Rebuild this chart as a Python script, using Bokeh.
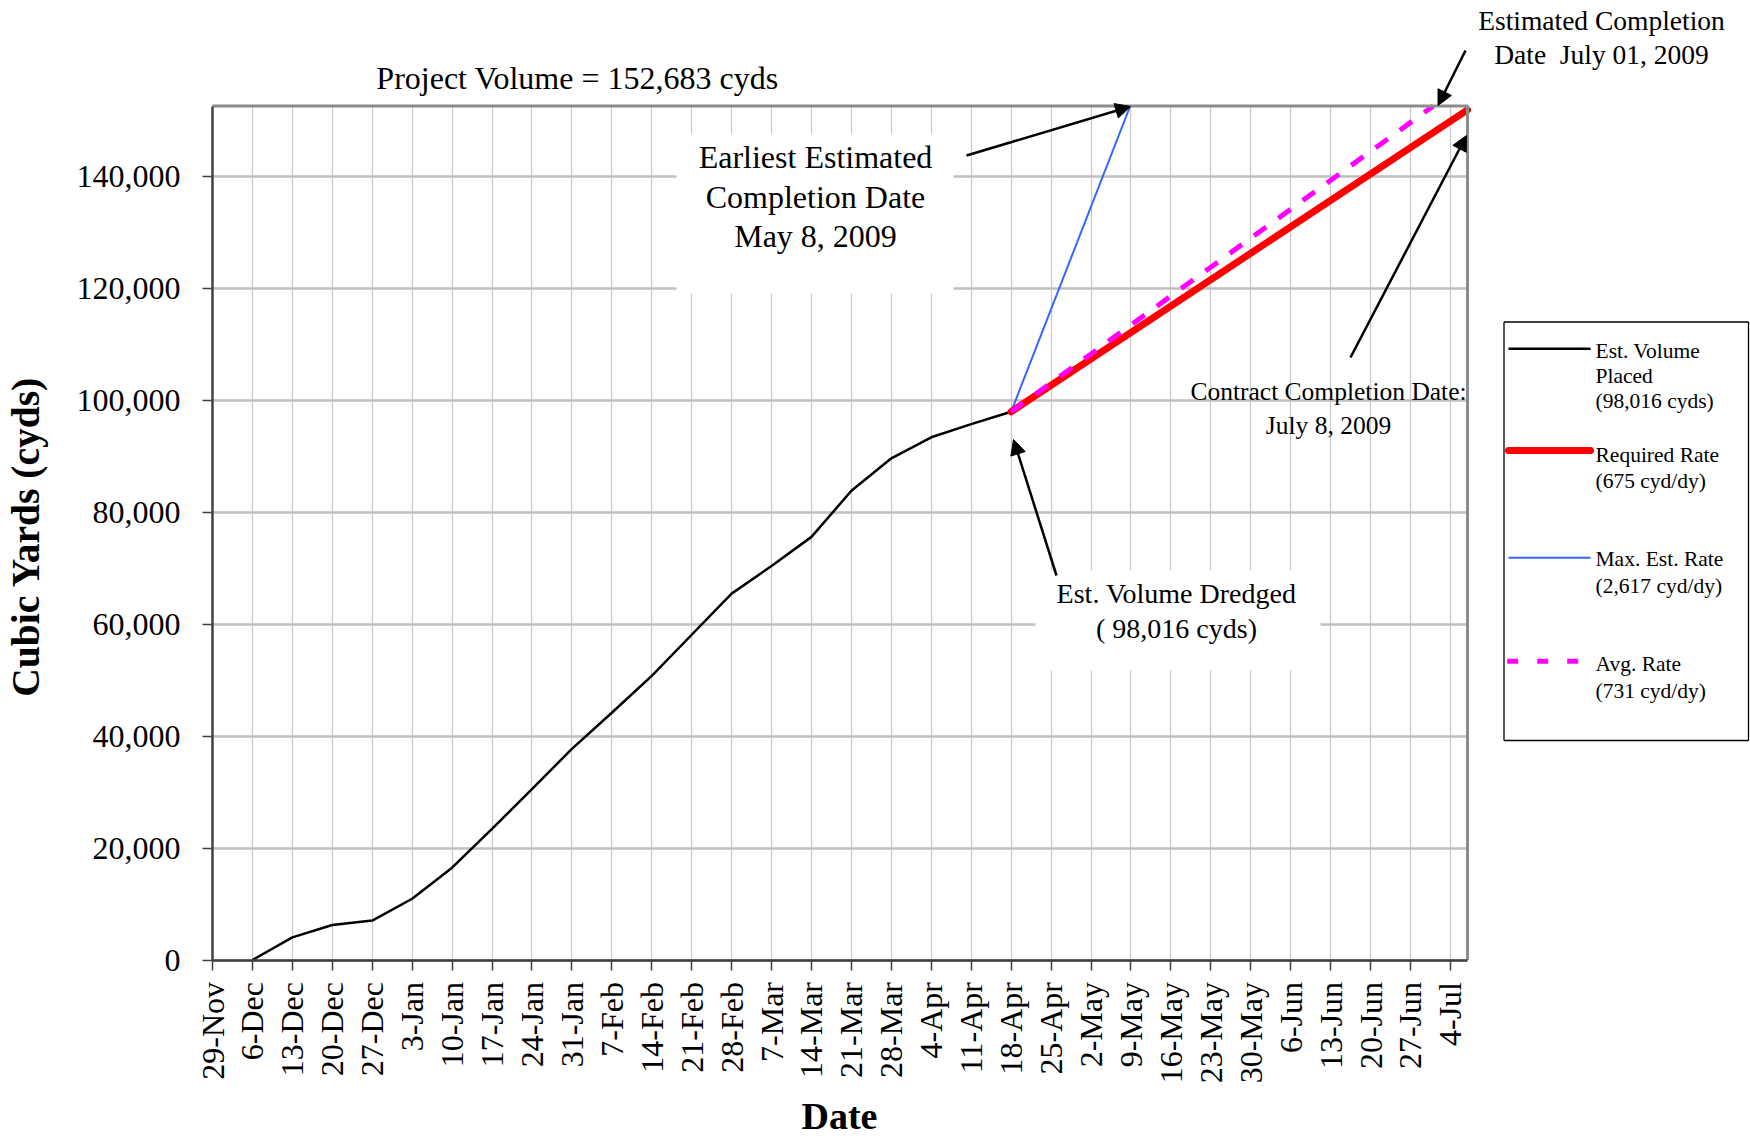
import math
import pandas as pd
from bokeh.plotting import figure
from bokeh.models import (Range1d, FixedTicker, NumeralTickFormatter, Label, Arrow,
                          NormalHead, BoxAnnotation, LinearAxis, Grid)
from bokeh.embed import file_html
from bokeh.resources import INLINE

# ---------------- data ----------------
BASE_DATE = "2008-11-29"
X_END_DATE = "2009-07-07"
PROJECT_VOLUME = 152683

placed_dates = ["2008-12-06", "2008-12-13", "2008-12-20", "2008-12-27", "2009-01-03",
                "2009-01-10", "2009-01-17", "2009-01-24", "2009-01-31", "2009-02-07",
                "2009-02-14", "2009-02-21", "2009-02-28", "2009-03-07", "2009-03-14",
                "2009-03-21", "2009-03-28", "2009-04-04", "2009-04-11", "2009-04-18"]
placed_cyds = [0, 4050, 6250, 7050, 10950, 16500, 23450, 30550, 37750, 44200,
               50800, 58150, 65500, 70450, 75650, 83900, 89700, 93450, 95800, 98016]

required_dates = ["2009-04-18", "2009-07-07"]
required_cyds = [98016, 152000]

max_rate_dates = ["2009-04-18", "2009-05-08 21:00"]
max_rate_cyds = [98016, 152683]

avg_rate_dates = ["2009-04-18", "2009-07-01"]
avg_rate_cyds = [98016, 152683]

tick_labels = ["29-Nov", "6-Dec", "13-Dec", "20-Dec", "27-Dec", "3-Jan", "10-Jan", "17-Jan",
               "24-Jan", "31-Jan", "7-Feb", "14-Feb", "21-Feb", "28-Feb", "7-Mar", "14-Mar",
               "21-Mar", "28-Mar", "4-Apr", "11-Apr", "18-Apr", "25-Apr", "2-May", "9-May",
               "16-May", "23-May", "30-May", "6-Jun", "13-Jun", "20-Jun", "27-Jun", "4-Jul"]
y_ticks = [0, 20000, 40000, 60000, 80000, 100000, 120000, 140000]

legend_names = [["Est. Volume", "Placed", "(98,016 cyds)"],
                ["Required Rate", "(675 cyd/dy)"],
                ["Max. Est. Rate", "(2,617 cyd/dy)"],
                ["Avg. Rate", "(731 cyd/dy)"]]

# ---------------- helpers ----------------
base = pd.Timestamp(BASE_DATE)


def days(ds):
    return [(pd.Timestamp(d) - base) / pd.Timedelta(days=1) for d in ds]


x_end = days([X_END_DATE])[0]
FONT = "Liberation Serif"

W, H = 1750, 1136
# pixel position of the plotting area inside the canvas
FL, FR = 212.0, 1467.0
FT, FB = 105.5, 959.5


def X(px):
    return (px - FL) / (FR - FL) * x_end


def Y(py):
    return (FB - py) / (FB - FT) * PROJECT_VOLUME


# ---------------- figure ----------------
p = figure(width=W, height=H, x_range=Range1d(X(0), X(W)), y_range=Range1d(Y(H), Y(0)),
           output_backend="svg", toolbar_location=None, tools="",
           x_axis_location=None, y_axis_location=None,
           min_border_left=0, min_border_right=0, min_border_top=0, min_border_bottom=0)
# drop the default grids (they would span the whole canvas)
p.center = [r for r in p.center if not isinstance(r, Grid)]
p.background_fill_color = "white"
p.border_fill_color = "white"
p.outline_line_color = None

tick_pos = [7 * i for i in range(len(tick_labels))]
xticker = FixedTicker(ticks=tick_pos)
yticker = FixedTicker(ticks=y_ticks)

xaxis = LinearAxis(ticker=xticker, fixed_location=0, bounds=(0, x_end),
                   major_label_overrides={t: lab for t, lab in zip(tick_pos, tick_labels)},
                   major_label_orientation=math.pi / 2)
yaxis = LinearAxis(ticker=yticker, fixed_location=0, bounds=(0, PROJECT_VOLUME),
                   formatter=NumeralTickFormatter(format="0,0"))
for ax in (xaxis, yaxis):
    ax.axis_line_color = "#404040"
    ax.axis_line_width = 2.5
    ax.major_tick_line_color = "#404040"
    ax.major_tick_line_width = 1.5
    ax.major_tick_in = 0
    ax.major_tick_out = 10
    ax.minor_tick_line_color = None
    ax.major_label_text_font = FONT
    ax.major_label_text_font_size = "32px"
    ax.major_label_text_color = "black"
xaxis.major_label_standoff = 12
yaxis.major_label_standoff = 22
p.add_layout(xaxis, "below")
p.add_layout(yaxis, "left")

p.add_layout(Grid(dimension=0, ticker=xticker, cross_bounds=(0, PROJECT_VOLUME),
                  grid_line_color="#c8c8c8", grid_line_width=1.2))
p.add_layout(Grid(dimension=1, ticker=yticker, cross_bounds=(0, x_end),
                  grid_line_color="#c0c0c0", grid_line_width=2.5))

# ---------------- series ----------------
p.line(days(placed_dates), placed_cyds, line_color="black", line_width=2.5)
p.line(days(max_rate_dates), max_rate_cyds, line_color="#3366ff", line_width=2)
p.line(days(required_dates), required_cyds, line_color="#ff0000", line_width=7, line_cap="round")
p.line(days(avg_rate_dates), avg_rate_cyds, line_color="#ff00ff", line_width=5, line_dash="15 15")
# top / right edge of the plotting area
p.line([0, x_end, x_end], [PROJECT_VOLUME, PROJECT_VOLUME, 0], line_color="#8c8c8c", line_width=3)

# ---------------- annotations ----------------
p.add_layout(BoxAnnotation(left=X(676), right=X(953), top=Y(133), bottom=Y(293),
                           fill_color="white", fill_alpha=1, line_color=None))
p.add_layout(BoxAnnotation(left=X(1035), right=X(1320), top=Y(570), bottom=Y(670),
                           fill_color="white", fill_alpha=1, line_color=None))


def label(text, px, py, size, align="center", style="normal", angle=0.0):
    p.add_layout(Label(x=X(px), y=Y(py), text=text, text_align=align,
                       text_baseline="alphabetic", text_font=FONT, angle=angle,
                       text_font_size=size, text_font_style=style, text_color="black"))


def arrow(x0, y0, x1, y1, head=True, color="black", width=2.5, dash="solid", cap="butt"):
    end = NormalHead(size=15, fill_color="black", line_color="black", line_width=1) if head else None
    p.add_layout(Arrow(x_start=X(x0), y_start=Y(y0), x_end=X(x1), y_end=Y(y1), end=end,
                       line_color=color, line_width=width, line_dash=dash, line_cap=cap))


label("Project Volume = 152,683 cyds", 577, 77, "32px")
label("Estimated Completion", 1601, 19.5, "27.5px")
label("Date \u00a0July 01, 2009", 1601, 54, "27.5px")
label("Earliest Estimated", 815, 156, "32px")
label("Completion Date", 815, 196, "32px")
label("May 8, 2009", 815, 235.5, "32px")
label("Est. Volume Dredged", 1176, 593, "28px")
label("( 98,016 cyds)", 1176, 628, "28px")
label("Contract Completion Date:", 1328, 391, "25.5px")
label("July 8, 2009", 1328, 424.5, "25.5px")
label("Date", 839, 1115, "38px", style="bold")
label("Cubic Yards (cyds)", 25, 536, "39.5px", style="bold", angle=math.pi / 2)

arrow(966, 155, 1130, 106)
arrow(1056, 575, 1013, 439)
arrow(1465, 50, 1437.5, 105)
arrow(1350, 357, 1466, 135)

# legend box
LB_L, LB_T, LB_R, LB_B = 1503.5, 321.5, 1748, 740
arrow(LB_L, LB_T, LB_R, LB_T, head=False, width=1.3)
arrow(LB_L, LB_B, LB_R, LB_B, head=False, width=1.3)
arrow(LB_L, LB_T, LB_L, LB_B, head=False, width=1.3)
arrow(LB_R, LB_T, LB_R, LB_B, head=False, width=1.3)

# legend samples
arrow(1508, 348.3, 1590, 348.3, head=False, width=2.5)
arrow(1508, 450, 1590, 450, head=False, color="#ff0000", width=7, cap="round")
arrow(1508, 557.3, 1590, 557.3, head=False, color="#3366ff", width=2)
arrow(1506.7, 660.7, 1580, 660.7, head=False, color="#ff00ff", width=5, dash="11 19")

legend_rows = [[350, 375.3, 400.3], [454, 480], [558.3, 585], [663.3, 690]]
for names, rows in zip(legend_names, legend_rows):
    for t, r in zip(names, rows):
        label(t, 1595, r, "21.5px", align="left")

open("out.html", "w").write(file_html(p, INLINE))
